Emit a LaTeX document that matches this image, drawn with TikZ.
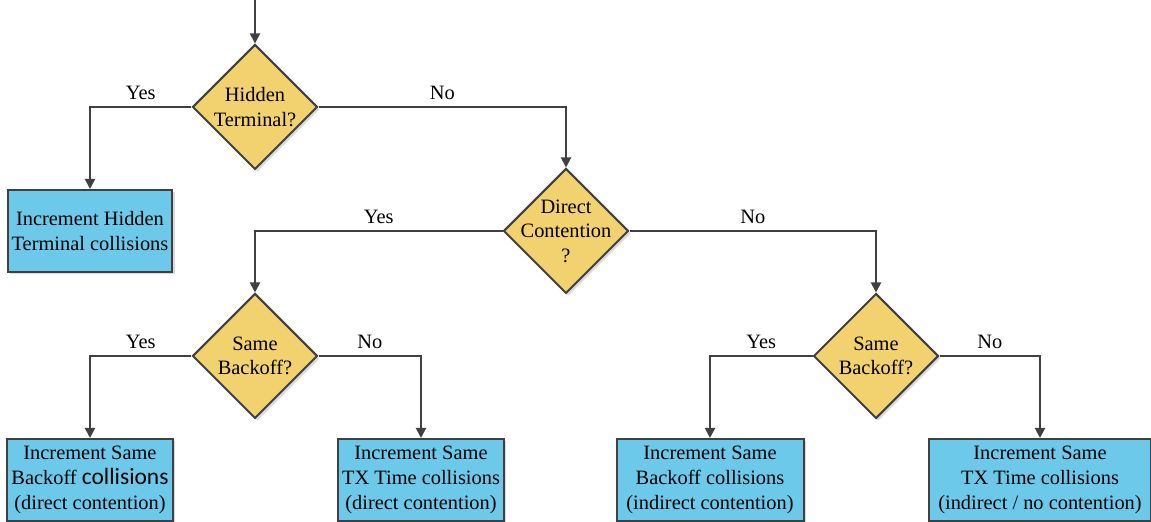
\documentclass[tikz,border=0pt]{standalone}
\usepackage{fontspec}
\setmainfont{Liberation Serif}
\newfontfamily\altsans[Scale=1.15]{Carlito}
\usetikzlibrary{shapes.geometric,positioning,arrows.meta,shadows}
\definecolor{decfill}{HTML}{F2D16F}
\definecolor{actfill}{HTML}{6DC9EA}
\definecolor{edgegray}{HTML}{404040}
\tikzset{
  softshadow/.style={drop shadow={shadow xshift=1.2pt,shadow yshift=-1.2pt,opacity=0.25,fill=black!60}},
  decision/.style={diamond,draw=edgegray,line width=1pt,fill=decfill,align=center,
    inner sep=-4.5pt,minimum width=62.5pt,minimum height=62.5pt,softshadow},
  action/.style={rectangle,draw=edgegray,line width=1pt,fill=actfill,align=center,
    inner xsep=2pt,minimum height=41pt,softshadow},
  flow/.style={draw=edgegray,line width=1pt,->},
  >={Triangle[length=5pt,width=5pt]}
}
\begin{document}
\begin{tikzpicture}[on grid,font=\fontsize{10.2}{12.3}\selectfont]
\useasboundingbox (-127.5pt,53.5pt) rectangle (448pt,-207.5pt);
\node (D1) [decision] {Hidden\\Terminal?};
\node (B1) [action, minimum width=82pt, below left=62pt and 82.5pt of D1] {Increment Hidden\\Terminal collisions};
\node (D2) [decision, below right=62pt and 155.5pt of D1] {Direct\\Contention\\?};
\node (D3) [decision, below left=62.5pt and 155.5pt of D2] {Same\\Backoff?};
\node (D4) [decision, below right=62.5pt and 155pt of D2] {Same\\Backoff?};
\node (B2) [action, minimum width=82pt, below left=62pt and 82.5pt of D3] {Increment Same\\Backoff {\altsans collisions}\\(direct contention)};
\node (B3) [action, minimum width=83pt, below right=62pt and 83pt of D3] {Increment Same\\TX Time collisions\\(direct contention)};
\node (B4) [action, minimum width=93.5pt, below left=62pt and 83pt of D4] {Increment Same\\Backoff collisions\\(indirect contention)};
\node (B5) [action, minimum width=111pt, below right=62pt and 82pt of D4] {Increment Same\\TX Time collisions\\(indirect / no contention)};
\coordinate [above=21.5pt of D1.north] (in);

\path[flow] (in) -- (D1);
\path[flow] (D1.west) -| node[pos=0.25,above] {Yes} (B1);
\path[flow] (D1.east) -| node[pos=0.25,above] {No} (D2);

\path[flow] (D2.west) -| node[pos=0.25,above] {Yes} (D3);
\path[flow] (D2.east) -| node[pos=0.25,above] {No} (D4);

\path[flow] (D3.west) -| node[pos=0.25,above] {Yes} (B2);
\path[flow] (D3.east) -| node[pos=0.25,above] {No} (B3);
\path[flow] (D4.west) -| node[pos=0.25,above] {Yes} (B4);
\path[flow] (D4.east) -| node[pos=0.25,above] {No} (B5);
\end{tikzpicture}
\end{document}
